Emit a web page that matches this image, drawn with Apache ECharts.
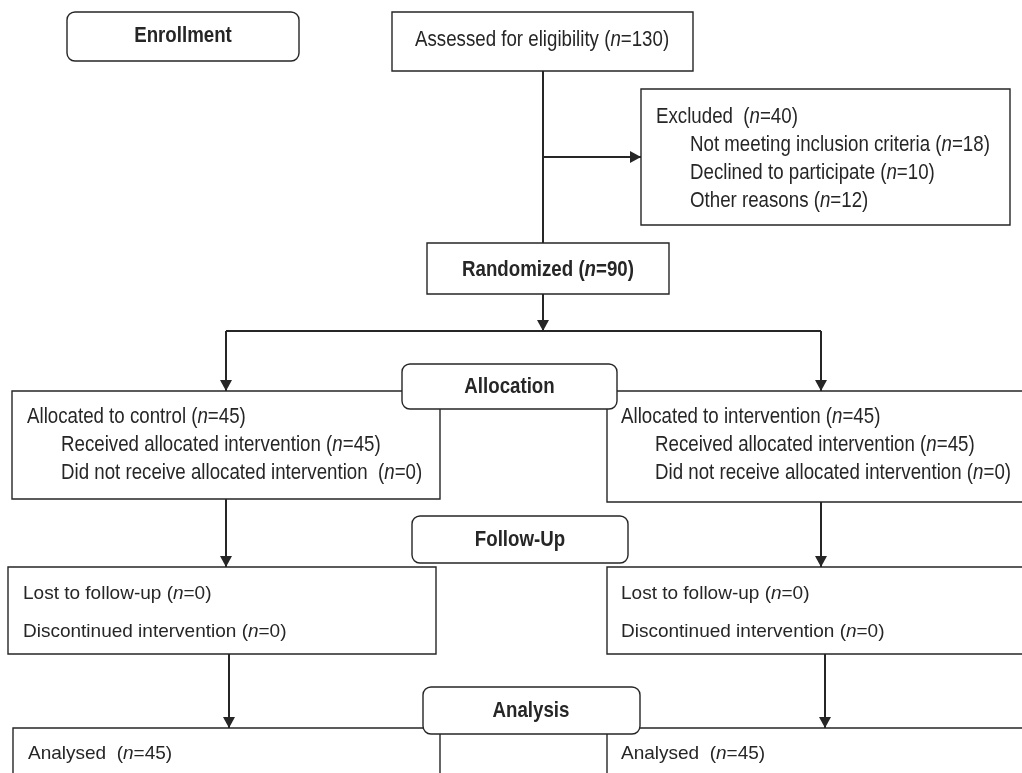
<!DOCTYPE html>
<html>
<head>
<meta charset="utf-8">
<script src="https://cdn.jsdelivr.net/npm/echarts@6/dist/echarts.min.js"></script>
<style>
html,body{margin:0;padding:0;background:#fff;}
#chart{width:1022px;height:773px;}
</style>
</head>
<body>
<div id="chart"></div>
<script>
// ---- data ----
const stageLabels = ['Enrollment', 'Allocation', 'Follow-Up', 'Analysis'];
const assessedN = 130;
const excludedTotal = 40;
const excludedReasons = ['Not meeting inclusion criteria', 'Declined to participate', 'Other reasons'];
const excludedCounts = [18, 10, 12];
const randomizedN = 90;
const armNames = ['control', 'intervention'];
const allocatedN = [45, 45];
const receivedN = [45, 45];
const notReceivedN = [0, 0];
const lostN = [0, 0];
const discontinuedN = [0, 0];
const analysedN = [45, 45];

// ---- styles ----
const INK = '#262626';
const FONT = "'Liberation Sans', Arial, sans-serif";
const NARROW_SCALE = 0.85;
function rich(size, weight) {
  return {
    r: {fontFamily: FONT, fontSize: size, fontWeight: weight, fill: INK, fontStyle: 'normal'},
    i: {fontFamily: FONT, fontSize: size, fontWeight: weight, fill: INK, fontStyle: 'italic'}
  };
}
function nText(label, n, gap) { return '{r|' + label + (gap || ' ') + '(}{i|n}{r|=' + n + ')}'; }

const els = [];
function box(x, y, w, h, r, z) {
  els.push({type: 'rect', z: z || 2, shape: {x: x, y: y, width: w, height: h, r: r || 0},
    style: {fill: '#fff', stroke: INK, lineWidth: 1.4}});
}
function seg(x1, y1, x2, y2) {
  els.push({type: 'line', z: 1, shape: {x1: x1, y1: y1, x2: x2, y2: y2},
    style: {stroke: INK, lineWidth: 2}});
}
function arrow(x1, y1, x2, y2) {
  seg(x1, y1, x2, y2);
  const L = 11, W = 6;
  let pts;
  if (x1 === x2) pts = [[x2, y2], [x2 - W, y2 - L], [x2 + W, y2 - L]];
  else pts = [[x2, y2], [x2 - L, y2 - W], [x2 - L, y2 + W]];
  els.push({type: 'polygon', z: 3, shape: {points: pts}, style: {fill: INK}});
}
function txt(x, y, content, size, weight, align, sx) {
  els.push({type: 'text', z: 5, x: x, y: y, scaleX: sx || 1,
    style: {text: content, rich: rich(size, weight), align: align || 'left', verticalAlign: 'middle',
      fontFamily: FONT, fontSize: size, fontWeight: weight, fill: INK}});
}

// ---- connectors ----
seg(543, 71, 543, 243);
arrow(543, 157, 641, 157);
arrow(543, 294, 543, 331);
seg(226, 331, 821, 331);
arrow(226, 331, 226, 391);
arrow(821, 331, 821, 391);
arrow(226, 499, 226, 567);
arrow(821, 502, 821, 567);
arrow(229, 654, 229, 728);
arrow(825, 654, 825, 728);

// ---- boxes ----
box(67, 12, 232, 49, 8);
box(392, 12, 301, 59);
box(641, 89, 369, 136);
box(427, 243, 242, 51);
box(12, 391, 428, 108);
box(607, 391, 440, 111);
box(8, 567, 428, 87);
box(607, 567, 440, 87);
box(13, 728, 427, 100);
box(607, 728, 440, 100);
box(402, 364, 215, 45, 8, 4);
box(412, 516, 216, 47, 8, 4);
box(423, 687, 217, 47, 8, 4);

// ---- texts ----
const TS = 22, HS = 22, BS = 19, NS = NARROW_SCALE;
txt(183, 36, '{r|' + stageLabels[0] + '}', HS, 'bold', 'center', NS);
txt(509.5, 387, '{r|' + stageLabels[1] + '}', HS, 'bold', 'center', NS);
txt(520, 540, '{r|' + stageLabels[2] + '}', HS, 'bold', 'center', NS);
txt(531, 711, '{r|' + stageLabels[3] + '}', HS, 'bold', 'center', NS);

txt(415, 40, nText('Assessed for eligibility', assessedN), TS, 'normal', 'left', NS);
txt(656, 117, nText('Excluded', excludedTotal, '  '), TS, 'normal', 'left', NS);
excludedReasons.forEach(function (r, k) {
  txt(690, 145 + 28 * k, nText(r, excludedCounts[k]), TS, 'normal', 'left', NS);
});
txt(548, 270, nText('Randomized', randomizedN), HS, 'bold', 'center', NS);

const armX = [27, 621];
const armGap = ['  ', ' '];
armNames.forEach(function (a, k) {
  const x0 = armX[k];
  txt(x0, 417, nText('Allocated to ' + a, allocatedN[k]), TS, 'normal', 'left', NS);
  txt(x0 + 34, 445, nText('Received allocated intervention', receivedN[k]), TS, 'normal', 'left', NS);
  txt(x0 + 34, 473, nText('Did not receive allocated intervention', notReceivedN[k], armGap[k]), TS, 'normal', 'left', NS);
});
const fuX = [23, 621];
const anX = [28, 621];
armNames.forEach(function (a, k) {
  txt(fuX[k], 594, nText('Lost to follow-up', lostN[k]), BS, 'normal');
  txt(fuX[k], 632, nText('Discontinued intervention', discontinuedN[k]), BS, 'normal');
  txt(anX[k], 754, nText('Analysed', analysedN[k], '  '), BS, 'normal');
});

const chart = echarts.init(document.getElementById('chart'), null, {renderer: 'canvas'});
chart.setOption({backgroundColor: '#fff', animation: false, graphic: {elements: els}});
</script>
</body>
</html>
